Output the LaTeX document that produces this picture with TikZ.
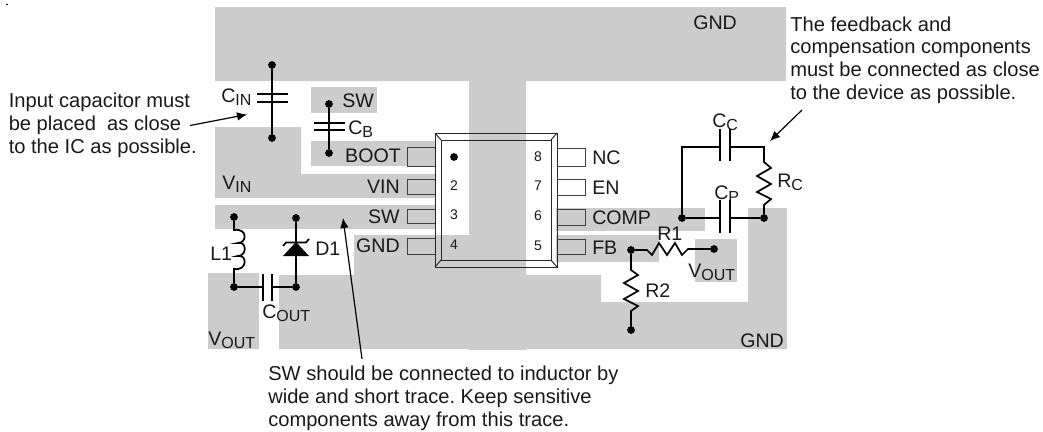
\documentclass[tikz,border=0pt]{standalone}
\usepackage{fontspec}
\setmainfont{Liberation Sans}
\usetikzlibrary{arrows.meta}
\newcommand{\lowsub}[1]{\raisebox{-0.32ex}{\fontsize{12}{14}\selectfont #1}}
\definecolor{padgray}{HTML}{CCCCCC}
\colorlet{pinline}{black!75}

\begin{document}
\begin{tikzpicture}[
x=0.75pt,y=-0.75pt,
Pads/.style={fill=padgray,draw=none},
Pins/.style={draw=pinline,line width=0.7pt},
Package/.style={draw=black!85,line width=0.7pt},
Wires/.style={draw=black,line width=1.3pt},
Plates/.style={draw=black,line width=1.7pt},
Notes/.style={-{Latex[length=7.5pt,width=6.5pt]},draw=black,line width=0.9pt},
MyDots/.style={circle,fill=black,inner sep=0pt,minimum size=5.8pt},
every node/.style={inner sep=0pt,text=black!90},
PartLabel/.style={font=\fontsize{14.7}{16}\selectfont,anchor=base west},
PinLeft/.style={font=\fontsize{14.7}{16}\selectfont,anchor=base east},
PinNumber/.style={font=\fontsize{10.5}{12}\selectfont},
NoteText/.style={font=\fontsize{15.1}{16.9}\selectfont\frenchspacing,align=left,anchor=base west}
]
\useasboundingbox (0,0) rectangle (1043,432);
\fill[black] (6,3.5) rectangle (8,5);

% copper
\fill[Pads] (215,7) -- (786,7) -- (786,81) -- (526,81) -- (526,275) -- (601,275) -- (601,302)
  -- (748,302) -- (748,208) -- (787,208) -- (787,349) -- (526,349) -- (526,350) -- (469,350)
  -- (469,349) -- (279,349) -- (279,275) -- (354,275) -- (354,235) -- (469,235) -- (469,81)
  -- (215,81) -- cycle;
\fill[Pads] (215,127) -- (301,127) -- (301,174) -- (435,174) -- (435,198) -- (215,198) -- cycle;
\fill[Pads] (311,87) rectangle (377,113);
\fill[Pads] (311,141) rectangle (435,166);
\fill[Pads] (215,205) rectangle (435,229);
\fill[Pads] (208,273) rectangle (259,349);
\fill[Pads] (556,208) rectangle (705,231);
\fill[Pads] (556,235) rectangle (659,262);
\fill[Pads] (695,239) rectangle (737,282);

% package
\draw[Package] (435,133) rectangle (557,267);
\draw[Package] (441,140) rectangle (551,260);
\draw[Package] (435,133) -- (441,140);
\draw[Package] (557,133) -- (551,140);
\draw[Package] (435,267) -- (441,260);
\draw[Package] (557,267) -- (551,260);

\draw[Pins] (435,147) -- (407,147) -- (407,166) -- (435,166);
\draw[Pins] (435,179) -- (407,179) -- (407,194) -- (435,194);
\draw[Pins] (435,209) -- (407,209) -- (407,223) -- (435,223);
\draw[Pins] (435,238) -- (407,238) -- (407,254) -- (435,254);
\draw[Pins] (557,148) -- (585,148) -- (585,166) -- (557,166);
\draw[Pins] (557,179) -- (585,179) -- (585,195) -- (557,195);
\draw[Pins] (557,209) -- (585,209) -- (585,225) -- (557,225);
\draw[Pins] (557,239) -- (585,239) -- (585,254) -- (557,254);

\node[MyDots] (PinOne) at (454,157) {};
\node[PinNumber] (PinTwo) at (454,186) {2};
\node[PinNumber] (PinThree) at (454,215) {3};
\node[PinNumber] (PinFour) at (454,245) {4};
\node[PinNumber] (PinEight) at (538,157) {8};
\node[PinNumber] (PinSeven) at (538,186) {7};
\node[PinNumber] (PinSix) at (538,216) {6};
\node[PinNumber] (PinFive) at (538,246) {5};

\node[PinLeft] (LabBoot) at (401,162) {BOOT};
\node[PinLeft] (LabVin) at (400,193) {VIN};
\node[PinLeft] (LabSw) at (400,223) {SW};
\node[PinLeft] (LabGnd) at (400,252) {GND};
\node[PartLabel] (LabNc) at (592,164) {NC};
\node[PartLabel] (LabEn) at (592,194) {EN};
\node[PartLabel] (LabComp) at (592,224) {COMP};
\node[PartLabel] (LabFb) at (592,254) {FB};

\node[PartLabel] (LabGndTop) at (693,29) {GND};
\node[PartLabel] (LabGndBot) at (740,347) {GND};
\node[PartLabel] (LabSwTop) at (342,107) {SW};
\node[PartLabel] (LabVinPad) at (222,189) {V\lowsub{IN}};
\node[PartLabel] (LabCin) at (221,102) {C\lowsub{IN}};
\node[PartLabel] (LabCb) at (348,134) {C\lowsub{B}};
\node[PartLabel] (LabL) at (210,260) {L1};
\node[PartLabel] (LabD) at (315,255) {D1};
\node[PartLabel] (LabCout) at (262,318) {C\lowsub{OUT}};
\node[PartLabel] (LabVout) at (208,345) {V\lowsub{OUT}};
\node[PartLabel] (LabCc) at (712,127) {C\lowsub{C}};
\node[PartLabel] (LabCp) at (714,199) {C\lowsub{P}};
\node[PartLabel] (LabRc) at (777,187) {R\lowsub{C}};
\node[PartLabel] (LabRone) at (657,240) {R1};
\node[PartLabel] (LabRtwo) at (645,297) {R2};
\node[PartLabel] (LabVoutFb) at (688,277) {V\lowsub{OUT}};

% input capacitor
\node[MyDots] (CinTop) at (272,65) {};
\node[MyDots] (CinBot) at (272,138) {};
\draw[Wires] (CinTop) -- (CinBot);
\draw[Plates] (257,94) -- (288,94);
\draw[Plates] (257,102) -- (288,102);

% boot capacitor
\node[MyDots] (CbTop) at (329,104) {};
\node[MyDots] (CbBot) at (329,153) {};
\draw[Wires] (CbTop) -- (CbBot);
\draw[Plates] (314,123) -- (345,123);
\draw[Plates] (314,130) -- (345,130);

% inductor
\node[MyDots] (LTop) at (234,217) {};
\node[MyDots] (LBot) at (234,287) {};
\coordinate (LCoilA) at (234,230);
\coordinate (LCoilB) at (234,269);
\draw[Wires] (LTop) -- (LCoilA) .. controls (248,228) and (247,243) .. (238,243)
  .. controls (247,241) and (247,256) .. (238,256)
  .. controls (247,254) and (248,271) .. (LCoilB) -- (LBot);

% diode
\node[MyDots] (DTop) at (296,218) {};
\node[MyDots] (DBot) at (296,287) {};
\draw[Wires] (DTop) -- (DBot);
\fill[black] (296,242) -- (283,256) -- (309,256) -- cycle;
\draw[Wires] (283,246) -- (286,242.5) -- (306,242.5) -- (309,239);

% output capacitor
\coordinate (CoutA) at (263,287);
\coordinate (CoutB) at (272,287);
\draw[Wires] (LBot) -- (CoutA);
\draw[Wires] (CoutB) -- (DBot);
\draw[Plates] (263,274) -- (263,301);
\draw[Plates] (272,274) -- (272,301);

% compensation
\node[MyDots] (CompNode) at (682,218) {};
\node[MyDots] (GndNode) at (764,218) {};
\coordinate (CcCorner) at (682,147);
\coordinate (RcCorner) at (764,147);
\coordinate (CcA) at (720,147);
\coordinate (CcB) at (730,147);
\coordinate (CpA) at (720,218);
\coordinate (CpB) at (730,218);
\draw[Wires] (CompNode) -- (CcCorner) -- (CcA);
\draw[Wires] (CcB) -- (RcCorner) -- (764,162) -- (771,168) -- (757,176) -- (771,184) -- (757,192)
  -- (771,199) -- (764,205) -- (GndNode);
\draw[Wires] (CompNode) -- (CpA);
\draw[Wires] (CpB) -- (GndNode);
\draw[Plates] (720,129) -- (720,161);
\draw[Plates] (730,129) -- (730,161);
\draw[Plates] (720,200) -- (720,233);
\draw[Plates] (730,200) -- (730,233);

% divider
\node[MyDots] (FbNode) at (631,250) {};
\node[MyDots] (VoutNode) at (714,249) {};
\node[MyDots] (R2Bot) at (631,330) {};
\draw[Wires] (FbNode) -- (647,250) -- (652,255) -- (659,243) -- (667,255) -- (675,243) -- (682,255)
  -- (688,249) -- (VoutNode);
\draw[Wires] (FbNode) -- (631,270) -- (638,275) -- (624,283) -- (638,291) -- (624,299)
  -- (638,306) -- (631,311) -- (R2Bot);

% notes
\node[NoteText] (NoteInput) at (8.5,153) {Input capacitor must\\be placed\ \ as close\\to the IC as possible.};
\node[NoteText] (NoteFeedback) at (790,99) {The feedback and\\compensation components\\must be connected as close\\to the device as possible.};
\node[NoteText] (NoteSw) at (268,426) {SW should be connected to inductor by\\wide and short trace. Keep sensitive\\components away from this trace.};

\coordinate (ArrInA) at (190,125.5);
\coordinate (ArrInB) at (247,114.5);
\coordinate (ArrFbA) at (802,110);
\coordinate (ArrFbB) at (770,141);
\coordinate (ArrSwA) at (362,359);
\coordinate (ArrSwB) at (343,218);
\draw[Notes] (ArrInA) -- (ArrInB);
\draw[Notes] (ArrFbA) -- (ArrFbB);
\draw[Notes] (ArrSwA) -- (ArrSwB);

\end{tikzpicture}
\end{document}
